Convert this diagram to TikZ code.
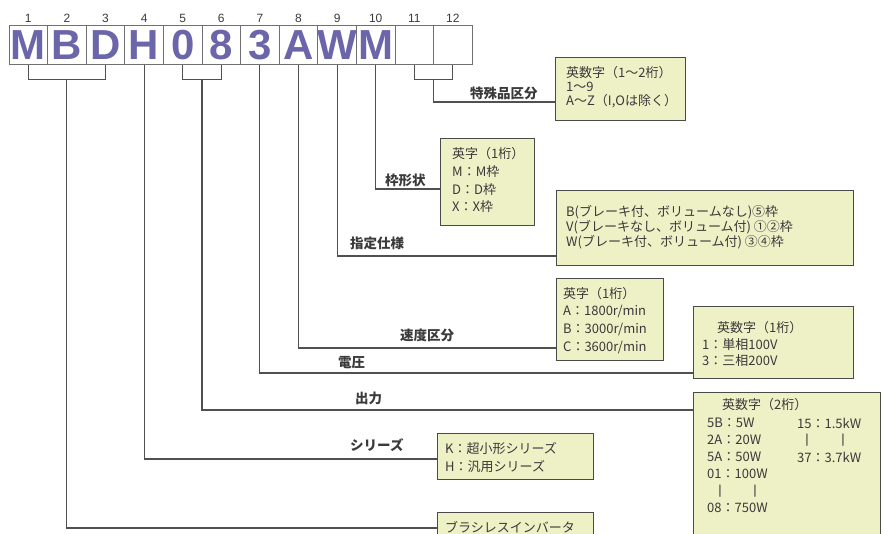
\documentclass[tikz,border=0pt]{standalone}
\usepackage{fontspec}
\setmainfont{Noto Sans CJK JP}
\newfontfamily\lat{Liberation Sans}
\usetikzlibrary{calc}
\definecolor{codecol}{HTML}{6B66AA}
\definecolor{codeborder}{HTML}{707070}
\definecolor{boxfill}{HTML}{EEF0C6}
\definecolor{boxborder}{HTML}{4A4A4A}
\definecolor{txt}{HTML}{3A3A3A}
\definecolor{linecol}{HTML}{505050}
\tikzset{
  codebox/.style={draw=codeborder, line width=1pt, minimum width=38.6pt, minimum height=39pt, inner sep=0pt, font=\lat\bfseries\fontsize{42}{42}\selectfont, text=codecol},
  idx/.style={font=\lat\fontsize{12}{12}\selectfont, text=txt, inner sep=0pt},
  infobox/.style={draw=boxborder, fill=boxfill, line width=1pt, inner sep=0pt, anchor=north west},
  boxtxt/.style={anchor=west, inner sep=0pt, font=\fontsize{13}{13}\selectfont, text=txt},
  bar/.style={inner sep=0pt, font=\lat\fontsize{13}{13}\selectfont, text=txt},
  lbl/.style={anchor=west, inner sep=0pt, font=\bfseries\fontsize{13.5}{13.5}\selectfont, text=txt},
  conn/.style={draw=linecol, line width=1.1pt}
}
\begin{document}
\begin{tikzpicture}[x=1pt,y=-1pt]
\useasboundingbox (0,0) rectangle (886,534);
% code boxes
\foreach \i/\l in {1/M,2/B,3/D,4/H,5/0,6/8,7/3,8/A,9/W,10/M,11/{},12/{}}{
  \node[codebox] (c\i) at ({9+38.6*(\i-0.5)},45.5) {\l};
  \node[idx] (n\i) at ({9+38.6*(\i-0.5)},18) {\i};
}
% info boxes
\node[infobox, minimum width=130pt, minimum height=63pt] (sp) at (555,57) {};
\node[infobox, minimum width=94pt, minimum height=87pt] (fr) at (440,138) {};
\node[infobox, minimum width=297pt, minimum height=75pt] (sh) at (556,190) {};
\node[infobox, minimum width=107pt, minimum height=82pt] (sd) at (556,278) {};
\node[infobox, minimum width=160pt, minimum height=72pt] (dv) at (693,306) {};
\node[infobox, minimum width=187pt, minimum height=160pt] (out) at (693,392) {};
\node[infobox, minimum width=156pt, minimum height=46pt] (ser) at (437,433) {};
\node[infobox, minimum width=156pt, minimum height=40pt] (br) at (437,512) {};
% box texts
\node[boxtxt] (sp1) at (566,73) {英数字（1～2桁）};
\node[boxtxt] (sp2) at (566,87) {1～9};
\node[boxtxt] (sp3) at (566,101) {A～Z（I,Oは除く）};
\node[boxtxt] (fr1) at (452,154) {英字（1桁）};
\node[boxtxt] (fr2) at (452,172) {M：M枠};
\node[boxtxt] (fr3) at (452,190) {D：D枠};
\node[boxtxt] (fr4) at (452,207) {X：X枠};
\node[boxtxt] (sh1) at (566,212) {B(ブレーキ付、ボリュームなし)⑤枠};
\node[boxtxt] (sh2) at (566,227) {V(ブレーキなし、ボリューム付)\ ①②枠};
\node[boxtxt] (sh3) at (566,242) {W(ブレーキ付、ボリューム付)\ ③④枠};
\node[boxtxt] (sd1) at (563,294) {英字（1桁）};
\node[boxtxt] (sd2) at (563,312) {A：1800r/min};
\node[boxtxt] (sd3) at (563,330) {B：3000r/min};
\node[boxtxt] (sd4) at (563,348) {C：3600r/min};
\node[boxtxt] (dv1) at (717,328) {英数字（1桁）};
\node[boxtxt] (dv2) at (702,345) {1：単相100V};
\node[boxtxt] (dv3) at (702,361) {3：三相200V};
\node[boxtxt] (o0) at (722,405) {英数字（2桁）};
\node[boxtxt] (o1) at (707,423) {5B：5W};
\node[boxtxt] (o2) at (707,440) {2A：20W};
\node[boxtxt] (o3) at (707,457) {5A：50W};
\node[boxtxt] (o4) at (707,474) {01：100W};
\node[bar] (o5a) at (720,491) {|};
\node[bar] (o5b) at (755,491) {|};
\node[boxtxt] (o6) at (707,508) {08：750W};
\node[boxtxt] (o7) at (797,423) {15：1.5kW};
\node[bar] (o8a) at (807,440) {|};
\node[bar] (o8b) at (843,440) {|};
\node[boxtxt] (o9) at (797,457) {37：3.7kW};
\node[boxtxt] (ser1) at (445,449) {K：超小形シリーズ};
\node[boxtxt] (ser2) at (445,467) {H：汎用シリーズ};
\node[boxtxt] (br1) at (445,527) {ブラシレスインバータ};
% labels
\node[lbl] (l12) at (470,93) {特殊品区分};
\node[lbl] (l10) at (385,180) {枠形状};
\node[lbl] (l9) at (350,243) {指定仕様};
\node[lbl] (l8) at (400,335) {速度区分};
\node[lbl] (l7) at (338,363) {電圧};
\node[lbl] (l56) at (355,398) {出力};
\node[lbl] (l4) at (350,445) {シリーズ};
% brackets
\draw[conn] (c1.south) -- ++(0,14) -| (c3.south);
\draw[conn] (c5.south) -- ++(0,14) -| (c6.south);
\draw[conn] (c11.south) -- ++(0,14) -| (c12.south);
\coordinate (j13) at ($(c2.south)+(0,14)$);
\coordinate (j56) at ($(c5.south)!0.5!(c6.south)+(0,14)$);
\coordinate (j1112) at ($(c11.south)!0.5!(c12.south)+(0,14)$);
% connectors
\draw[conn] (j1112) |- (sp.west |- 0,102);
\draw[conn] (c10.south) |- (fr.west |- 0,189);
\draw[conn] (c9.south) |- (sh.west |- 0,256);
\draw[conn] (c8.south) |- (sd.west |- 0,348);
\draw[conn] (c7.south) |- (dv.west |- 0,373);
\draw[conn] (j56) |- (out.west |- 0,410);
\draw[conn] (c4.south) |- (ser.west |- 0,459);
\draw[conn] (j13) |- (br.west |- 0,528);
\end{tikzpicture}
\end{document}
